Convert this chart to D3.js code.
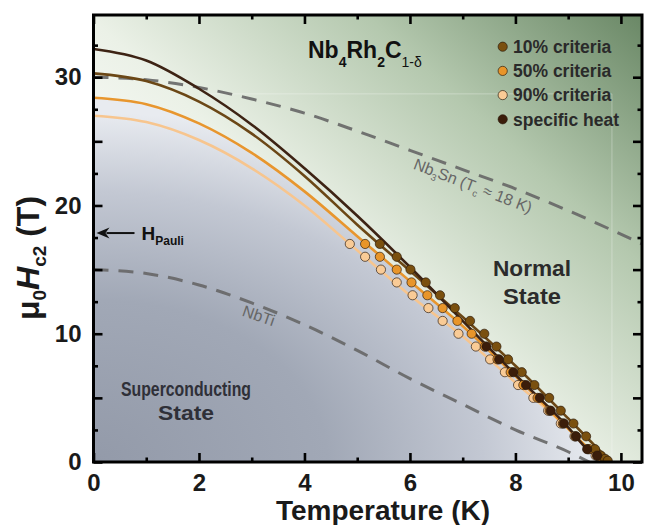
<!DOCTYPE html>
<html><head><meta charset="utf-8">
<script src="https://cdn.jsdelivr.net/npm/d3@7"></script>
<style>
body{margin:0;background:#fff}
svg{display:block;font-family:"Liberation Sans",Arial,Helvetica,sans-serif}
</style>
</head><body>
<svg id="c" width="648" height="525"></svg>
<script>
// ---------- data ----------
const xTickLabels = [0, 2, 4, 6, 8, 10];
const yTickLabels = [0, 10, 20, 30];
const seriesNames = ["10% criteria", "50% criteria", "90% criteria", "specific heat"];

// measured points (field in T, temperature in K)
const H10 = [17,16,15,14,13,12,11,10,9,8,7,6,5,4,3,2,1,0.5,0.25,0.1];
const T10 = [5.43,5.75,6.01,6.30,6.57,6.85,7.14,7.41,7.64,7.86,8.12,8.36,8.64,8.86,9.10,9.34,9.51,9.62,9.70,9.75];
const H50 = [17,16,15,14,13,12,11,10,9,8,7,6,5,4,3,2,1,0.5,0.25,0.1];
const T50 = [5.15,5.43,5.75,6.03,6.33,6.62,6.90,7.17,7.42,7.66,7.91,8.15,8.42,8.65,8.90,9.14,9.40,9.55,9.65,9.72];
const H90 = [17,16,15,14,13,12,11,10,9,8,7,6,5,4,3,2,1,0.5,0.25,0.1];
const T90 = [4.86,5.15,5.45,5.75,6.05,6.35,6.62,6.92,7.25,7.52,7.80,8.05,8.34,8.62,8.86,9.12,9.38,9.52,9.62,9.70];
const HSH = [9,8,7,6,5,4,3,2,1,0.5];
const TSH = [7.45,7.69,7.96,8.20,8.46,8.67,8.92,9.15,9.36,9.55];

// fitted curves
const fitSH_T = [0,1,2,3,4,5,6,7,8,9,9.36,9.68];
const fitSH_H = [32.2,31.3,29.1,26.3,22.9,19.2,15.2,11.0,6.8,2.7,1.0,0];
const fit10_T = [0,1,2,3,4,5,6,7,8,9,9.5,9.82];
const fit10_H = [30.3,29.7,28.1,25.6,22.3,18.5,14.9,11.3,7.5,3.4,1.3,0];
const fit50_T = [0,1,2,3,4,5,6,7,8,9,9.4,9.72];
const fit50_H = [28.4,27.9,26.4,24.1,21.1,17.6,14.1,10.6,6.7,2.6,1.0,0];
const fit90_T = [0,1,2,3,4,5,6,7,8,9,9.38,9.76];
const fit90_H = [27.0,26.5,25.1,22.9,20.0,16.5,13.0,9.8,6.2,2.6,1.0,0];

// reference materials
const nb3sn_T = [0,1,2,3,4,5,6,7,8,9,10.4];
const nb3sn_H = [30,29.8,29.2,28.3,27.2,25.8,24.3,22.8,21.3,19.6,17.0];
const nbti_T = [0,1,2,3,4,5,6,7,8,9,9.4];
const nbti_H = [15,14.7,13.8,12.4,10.7,8.7,6.5,4.5,2.5,0.8,0];
const hPauli = 17.85;

// ---------- layout ----------
const svg = d3.select("#c");
const x = d3.scaleLinear().domain([0, 10.4]).range([93.5, 642]);
const y = d3.scaleLinear().domain([0, 34.85]).range([462, 15]);
const X0 = x.range()[0], X1 = x.range()[1], Y0 = y.range()[0], Y1 = y.range()[1];

const zip = (a, b) => a.map((v, i) => [v, b[i]]);
const line = d3.line().x(d => x(d[0])).y(d => y(d[1])).curve(d3.curveMonotoneX);

const defs = svg.append("defs");
defs.append("clipPath").attr("id", "plot").append("rect")
  .attr("x", X0).attr("y", Y1).attr("width", X1 - X0).attr("height", Y0 - Y1);

const gG = defs.append("linearGradient").attr("id", "gGreen")
  .attr("gradientUnits", "userSpaceOnUse")
  .attr("x1", x(4.5)).attr("y1", y(8)).attr("x2", x(10.4)).attr("y2", y(35));
[[0, "#f6f8f4"], [0.2, "#ebf1e7"], [0.6, "#b4c8ae"], [1, "#698765"]].forEach(s =>
  gG.append("stop").attr("offset", s[0]).attr("stop-color", s[1]));

const gB = defs.append("radialGradient").attr("id", "gBlue")
  .attr("gradientUnits", "userSpaceOnUse")
  .attr("cx", 0).attr("cy", 0).attr("r", 1)
  .attr("gradientTransform", `translate(${X0},${Y0}) scale(520,360)`);
[[0, "#939aa9"], [0.45, "#a1a8b6"], [0.75, "#c3c8d3"], [0.97, "#e8ebf0"]].forEach(s =>
  gB.append("stop").attr("offset", s[0]).attr("stop-color", s[1]));

const plot = svg.append("g").attr("clip-path", "url(#plot)");
plot.append("rect").attr("x", X0).attr("y", Y1).attr("width", X1 - X0).attr("height", Y0 - Y1)
  .attr("fill", "url(#gGreen)");
const area = d3.area().x(d => x(d[0])).y0(y(0)).y1(d => y(d[1])).curve(d3.curveMonotoneX);
plot.append("path").datum(zip(fit50_T, fit50_H)).attr("d", area).attr("fill", "url(#gBlue)");

// faint tiling seams in the background image
plot.append("line").attr("x1", x(2.2)).attr("x2", x(9.83)).attr("y1", y(28.7)).attr("y2", y(28.7))
  .attr("stroke", "#fff").attr("stroke-opacity", 0.3).attr("stroke-width", 1);
plot.append("line").attr("x1", x(9.83)).attr("x2", x(9.83)).attr("y1", y(28.7)).attr("y2", y(0))
  .attr("stroke", "#fff").attr("stroke-opacity", 0.3).attr("stroke-width", 1);

// dashed reference lines
[[nb3sn_T, nb3sn_H], [nbti_T, nbti_H]].forEach(([t, h]) => {
  plot.append("path").datum(zip(t, h)).attr("d", line)
    .attr("fill", "none").attr("stroke", "#666").attr("stroke-opacity", 0.9)
    .attr("stroke-width", 3).attr("stroke-dasharray", "15,10");
});

// fit curves
const fits = [
  [fit90_T, fit90_H, "#f7c58e"],
  [fit50_T, fit50_H, "#e8962e"],
  [fit10_T, fit10_H, "#6b4716"],
  [fitSH_T, fitSH_H, "#3d2314"]
];
fits.forEach(([t, h, c]) => {
  plot.append("path").datum(zip(t, h)).attr("d", line)
    .attr("fill", "none").attr("stroke", c).attr("stroke-width", 2.6);
});

// data points
const pointSets = [
  [T90, H90, "#f9cb96"],
  [T50, H50, "#e8952a"],
  [T10, H10, "#7a500f"],
  [TSH, HSH, "#3b1d0a"]
];
pointSets.forEach(([t, h, c]) => {
  plot.append("g").selectAll("circle").data(zip(t, h)).join("circle")
    .attr("cx", d => x(d[0])).attr("cy", d => y(d[1])).attr("r", 4.6)
    .attr("fill", c).attr("stroke", "#2a1a0c").attr("stroke-opacity", 0.75).attr("stroke-width", 0.9);
});

// ---------- axes ----------
const axStyle = g => {
  g.select(".domain").remove();
  g.selectAll(".tick line").attr("stroke", "#000").attr("stroke-width", 2.6);
};
const xMinor = d3.range(0, 10.5, 1).filter(v => !xTickLabels.includes(v));
const yMajorAll = d3.range(0, 35, 5);
const yMinor = d3.range(2.5, 35, 5);

svg.append("g").attr("transform", `translate(0,${Y0})`)
  .call(d3.axisBottom(x).tickValues(xTickLabels).tickSize(-9).tickPadding(12).tickFormat(d3.format("d")))
  .call(axStyle)
  .call(g => g.selectAll("text").attr("font-size", 24).attr("font-weight", "bold").attr("fill", "#1a1a1a").attr("dy", "0.71em"));
svg.append("g").attr("transform", `translate(0,${Y0})`)
  .call(d3.axisBottom(x).tickValues(xMinor).tickSize(-4.5).tickFormat(""))
  .call(axStyle);
svg.append("g").attr("transform", `translate(0,${Y1})`)
  .call(d3.axisTop(x).tickValues(xTickLabels).tickSize(-9).tickFormat(""))
  .call(axStyle);
svg.append("g").attr("transform", `translate(0,${Y1})`)
  .call(d3.axisTop(x).tickValues(xMinor).tickSize(-4.5).tickFormat(""))
  .call(axStyle);

svg.append("g").attr("transform", `translate(${X0},0)`)
  .call(d3.axisLeft(y).tickValues(yMajorAll).tickSize(-9).tickPadding(12)
    .tickFormat(d => yTickLabels.includes(d) ? d : ""))
  .call(axStyle)
  .call(g => g.selectAll("text").attr("font-size", 24).attr("font-weight", "bold").attr("fill", "#1a1a1a"));
svg.append("g").attr("transform", `translate(${X0},0)`)
  .call(d3.axisLeft(y).tickValues(yMinor).tickSize(-4.5).tickFormat(""))
  .call(axStyle);
svg.append("g").attr("transform", `translate(${X1},0)`)
  .call(d3.axisRight(y).tickValues(yMajorAll).tickSize(-9).tickFormat(""))
  .call(axStyle);
svg.append("g").attr("transform", `translate(${X1},0)`)
  .call(d3.axisRight(y).tickValues(yMinor).tickSize(-4.5).tickFormat(""))
  .call(axStyle);

svg.append("rect").attr("x", X0).attr("y", Y1).attr("width", X1 - X0).attr("height", Y0 - Y1)
  .attr("fill", "none").attr("stroke", "#000").attr("stroke-width", 3);

// axis titles
svg.append("text").attr("x", 383).attr("y", 520).attr("text-anchor", "middle")
  .attr("font-size", 28).attr("font-weight", "bold").attr("fill", "#1a1a1a").text("Temperature (K)");

const yt = svg.append("text").attr("transform", "translate(39,258) rotate(-90)")
  .attr("text-anchor", "middle").attr("font-size", 32).attr("font-weight", "bold").attr("fill", "#1a1a1a");
yt.append("tspan").text("μ");
yt.append("tspan").attr("font-size", 19).attr("dy", 7).text("0");
yt.append("tspan").attr("font-style", "italic").attr("dy", -7).text("H");
yt.append("tspan").attr("font-size", 19).attr("dy", 7).text("c2");
yt.append("tspan").attr("dy", -7).text(" (T)");

// compound title
const tt = svg.append("text").attr("x", 308).attr("y", 58).attr("font-size", 23)
  .attr("font-weight", "bold").attr("fill", "#111");
tt.append("tspan").text("Nb");
tt.append("tspan").attr("font-size", 14).attr("dy", 9).text("4");
tt.append("tspan").attr("dy", -9).text("Rh");
tt.append("tspan").attr("font-size", 14).attr("dy", 9).text("2");
tt.append("tspan").attr("dy", -9).text("C");
tt.append("tspan").attr("font-size", 14).attr("font-weight", "normal").attr("dy", 9).text("1-δ");

// legend
const legColors = ["#7a500f", "#e8952a", "#f9cb96", "#3b1d0a"];
const leg = svg.append("g");
seriesNames.forEach((n, i) => {
  const cy = 46.7 + i * 24.2;
  leg.append("circle").attr("cx", 502.7).attr("cy", cy).attr("r", 4.6)
    .attr("fill", legColors[i]).attr("stroke", "#2a1a0c").attr("stroke-opacity", 0.75).attr("stroke-width", 0.9);
  leg.append("text").attr("x", 513).attr("y", cy + 6.3).attr("font-size", 17.5)
    .attr("font-weight", "bold").attr("fill", "#2a2a2a").text(n);
});

// region labels
const region = (lines, cx, cy0, fs, col, widths) => {
  lines.forEach((s, i) => svg.append("text").attr("x", cx).attr("y", cy0 + i * fs * 1.25)
    .attr("text-anchor", "middle").attr("font-size", fs).attr("font-weight", "bold")
    .attr("fill", col).attr("textLength", widths[i]).attr("lengthAdjust", "spacingAndGlyphs").text(s));
};
region(["Normal", "State"], 532, 276, 22, "#2b2b2b", [78, 58]);
region(["Superconducting", "State"], 186, 396, 19.5, "#2f3038", [130, 56]);

// material labels
const nl = svg.append("text").attr("transform", "translate(471,191) rotate(21)")
  .attr("text-anchor", "middle").attr("font-size", 16).attr("fill", "#666");
nl.append("tspan").text("Nb");
nl.append("tspan").attr("font-size", 9.5).attr("dy", 4).text("3");
nl.append("tspan").attr("dy", -4).text("Sn (T");
nl.append("tspan").attr("font-size", 9.5).attr("dy", 4).text("c");
nl.append("tspan").attr("dy", -4).text(" ≈ 18 K)");

svg.append("text").attr("transform", "translate(257,321) rotate(19)")
  .attr("text-anchor", "middle").attr("font-size", 16).attr("fill", "#666").text("NbTi");

// H Pauli marker
const yp = y(hPauli);
svg.append("line").attr("x1", X0 + 13).attr("x2", X0 + 41).attr("y1", yp).attr("y2", yp)
  .attr("stroke", "#111").attr("stroke-width", 2);
svg.append("path")
  .attr("d", `M${X0 + 3},${yp} L${X0 + 16},${yp - 5.5} L${X0 + 12},${yp} L${X0 + 16},${yp + 5.5} Z`)
  .attr("fill", "#111");
const hp = svg.append("text").attr("x", X0 + 48).attr("y", yp + 7).attr("font-size", 19)
  .attr("font-weight", "bold").attr("fill", "#111");
hp.append("tspan").text("H");
hp.append("tspan").attr("font-size", 12).attr("dy", 5).text("Pauli");
</script>
</body></html>
